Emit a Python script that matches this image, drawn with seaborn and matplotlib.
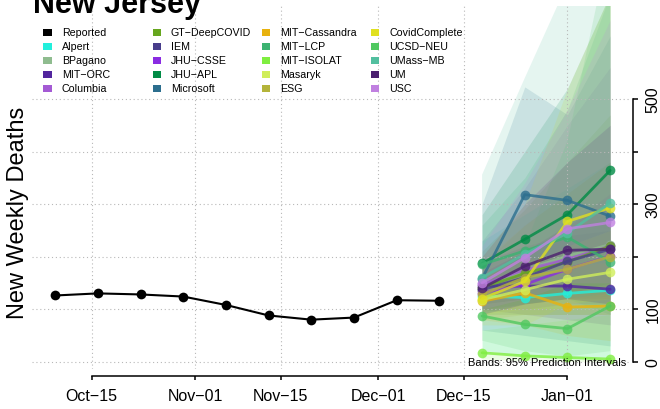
import matplotlib
matplotlib.use("Agg")
import matplotlib.pyplot as plt
import matplotlib.dates as mdates
from matplotlib.patches import Rectangle
import numpy as np
import pandas as pd
import seaborn as sns

# reported weekly deaths (dates are the Friday of each week)
reported_dates = pd.date_range("2020-10-09", periods=10, freq="7D")
reported_deaths = [126, 130, 128, 124, 108, 88, 80, 84, 117, 116]

forecast_dates = pd.to_datetime(["2020-12-18", "2020-12-25", "2021-01-01", "2021-01-08"])

models = ["Alpert", "BPagano", "MIT-ORC", "Columbia", "GT-DeepCOVID", "IEM",
          "JHU-CSSE", "JHU-APL", "Microsoft", "MIT-Cassandra", "MIT-LCP",
          "MIT-ISOLAT", "Masaryk", "ESG", "CovidComplete", "UCSD-NEU",
          "UMass-MB", "UM", "USC"]

model_colors = {
    "Alpert": "#22efdc", "BPagano": "#8fbc8f", "MIT-ORC": "#52259e",
    "Columbia": "#a45ad4", "GT-DeepCOVID": "#66a61e", "IEM": "#483d8b",
    "JHU-CSSE": "#8a2be2", "JHU-APL": "#008b45", "Microsoft": "#2c6e8e",
    "MIT-Cassandra": "#e8b20e", "MIT-LCP": "#3cb371", "MIT-ISOLAT": "#7fee40",
    "Masaryk": "#d0ee5a", "ESG": "#b4b43a", "CovidComplete": "#e0e020",
    "UCSD-NEU": "#50c860", "UMass-MB": "#52bf9f", "UM": "#4b1f6f",
    "USC": "#c080e0",
}

# point forecasts
forecast_point = {
    "Alpert": [125, 122, 130, 136],
    "BPagano": [137, 175, 201, 223],
    "MIT-ORC": [144, 144, 144, 138],
    "Columbia": [147, 175, 195, 220],
    "GT-DeepCOVID": [141, 168, 190, 220],
    "IEM": [137, 160, 191, 214],
    "JHU-CSSE": [131, 147, 176, 201],
    "JHU-APL": [187, 233, 280, 364],
    "Microsoft": [158, 318, 307, 277],
    "MIT-Cassandra": [115, 131, 104, 106],
    "MIT-LCP": [185, 211, 237, 190],
    "MIT-ISOLAT": [17, 11, 8, 5],
    "Masaryk": [118, 137, 157, 170],
    "ESG": [128, 160, 176, 200],
    "CovidComplete": [120, 153, 267, 293],
    "UCSD-NEU": [87, 71, 63, 106],
    "UMass-MB": [160, 205, 245, 302],
    "UM": [140, 182, 212, 214],
    "USC": [150, 198, 253, 265],
}

# 95% prediction intervals
forecast_lower = {
    "Alpert": [22, 10, 5, 5],
    "BPagano": [95, 110, 120, 125],
    "MIT-ORC": [100, 90, 80, 70],
    "Columbia": [100, 110, 120, 120],
    "GT-DeepCOVID": [90, 90, 90, 90],
    "IEM": [110, 120, 130, 140],
    "JHU-CSSE": [100, 100, 110, 110],
    "JHU-APL": [110, 120, 130, 150],
    "Microsoft": [60, 50, 40, 30],
    "MIT-Cassandra": [80, 70, 50, 40],
    "MIT-LCP": [100, 110, 120, 90],
    "MIT-ISOLAT": [5, 2, 1, 0],
    "Masaryk": [90, 100, 100, 100],
    "ESG": [80, 90, 90, 90],
    "CovidComplete": [70, 70, 110, 120],
    "UCSD-NEU": [40, 20, 10, 20],
    "UMass-MB": [90, 110, 120, 130],
    "UM": [90, 110, 120, 110],
    "USC": [100, 120, 150, 150],
}
forecast_upper = {
    "Alpert": [230, 280, 330, 380],
    "BPagano": [185, 260, 320, 380],
    "MIT-ORC": [190, 220, 240, 250],
    "Columbia": [230, 330, 450, 560],
    "GT-DeepCOVID": [210, 290, 380, 470],
    "IEM": [170, 210, 260, 300],
    "JHU-CSSE": [170, 210, 260, 320],
    "JHU-APL": [280, 400, 520, 700],
    "Microsoft": [300, 523, 470, 620],
    "MIT-Cassandra": [160, 200, 180, 190],
    "MIT-LCP": [260, 350, 480, 700],
    "MIT-ISOLAT": [60, 70, 80, 90],
    "Masaryk": [150, 180, 220, 250],
    "ESG": [190, 260, 320, 380],
    "CovidComplete": [200, 300, 520, 700],
    "UCSD-NEU": [150, 220, 420, 800],
    "UMass-MB": [356, 540, 720, 900],
    "UM": [200, 300, 380, 450],
    "USC": [220, 340, 480, 650],
}

tick_dates = pd.to_datetime(["2020-10-15", "2020-11-01", "2020-11-15",
                             "2020-12-01", "2020-12-15", "2021-01-01"])
y_ticks = [0, 100, 200, 300, 400, 500]
y_ticklabels = ["0", "100", "", "300", "", "500"]

sns.set_style("white")
plt.rcParams["font.family"] = ["Liberation Sans", "DejaVu Sans"]
plt.rcParams["text.color"] = "black"
plt.rcParams["xtick.color"] = "black"
plt.rcParams["ytick.color"] = "black"

W, H = 660, 410
fig = plt.figure(figsize=(W / 100, H / 100), dpi=100)
ax = fig.add_axes([32 / W, 40 / H, 598 / W, 363 / H])

# bands (under the dotted grid)
for m in models:
    ax.fill_between(forecast_dates, forecast_lower[m], forecast_upper[m],
                    color=model_colors[m], alpha=0.15, lw=0, zorder=0.3)

# forecast lines
rows = []
for m in models:
    for d, v in zip(forecast_dates, forecast_point[m]):
        rows.append({"model": m, "date": d, "deaths": v})
fc = pd.DataFrame(rows)
sns.lineplot(data=fc, x="date", y="deaths", hue="model", hue_order=models,
             palette=model_colors, marker="o", markersize=7, markeredgewidth=0,
             linewidth=2, alpha=0.8, legend=False, ax=ax)

# reported
rep = pd.DataFrame({"date": reported_dates, "deaths": reported_deaths})
sns.lineplot(data=rep, x="date", y="deaths", color="black", marker="o",
             markersize=7, markeredgewidth=0, linewidth=1.5, ax=ax)

ax.set_xlim(pd.Timestamp("2020-10-15") - pd.Timedelta(days=9.79),
            pd.Timestamp("2021-01-01") + pd.Timedelta(days=10.25))
ax.set_ylim(-13.9, 677)

ax.set_xticks(tick_dates)
ax.xaxis.set_major_formatter(mdates.DateFormatter("%b\u2212%d"))
ax.set_yticks(y_ticks)
ax.set_yticklabels(y_ticklabels)
ax.yaxis.tick_right()

ax.grid(True, linestyle=(0, (1, 2.5)), color="#b8b8b8", linewidth=0.8)
ax.set_axisbelow(True)

for s in ["top", "left"]:
    ax.spines[s].set_visible(False)
ax.spines["bottom"].set_position(("outward", 5.0))
ax.spines["bottom"].set_bounds(mdates.date2num(tick_dates[0]), mdates.date2num(tick_dates[-1]))
ax.spines["right"].set_position(("outward", 2.4))
ax.spines["right"].set_bounds(0, 500)
for s in ["bottom", "right"]:
    ax.spines[s].set_linewidth(1.1)
    ax.spines[s].set_color("black")

ax.tick_params(axis="x", direction="out", length=2.6, width=1.1, pad=6, labelsize=11.5,
               bottom=True, colors="black")
ax.tick_params(axis="y", direction="out", length=3.6, width=1.1, pad=5, labelsize=11.5,
               labelrotation=90, right=True, left=False, colors="black")
for lab in ax.get_yticklabels():
    lab.set_va("center")

ax.set_xlabel("")
ax.set_ylabel("")

ax.text(0.993, 0, "Bands: 95% Prediction Intervals", transform=ax.get_yaxis_transform(),
        ha="right", va="center", fontsize=8)

fig.text(18 / W, 197 / H, "New Weekly Deaths", rotation=90, ha="center", va="center", fontsize=17)
# title sits partly above the top edge, as in the original
fig.text(33 / W, 1 - 13 / H, "New Jersey", fontsize=22, fontweight="bold", ha="left", va="baseline")

# legend (4 columns x 5 rows, filled squares)
legend_names = ["Reported"] + models
legend_colors = ["black"] + [model_colors[m] for m in models]
for i, (name, c) in enumerate(zip(legend_names, legend_colors)):
    col, row = i // 5, i % 5
    x = 43.3 + col * 109.2
    y = 33 + row * 14
    fig.add_artist(Rectangle((x / W, 1 - (y + 3.5) / H), 8.3 / W, 7 / H,
                             transform=fig.transFigure, color=c, lw=0))
    fig.text((x + 18.4) / W, 1 - y / H, name.replace("-", "\u2212"),
             fontsize=7.7, ha="left", va="center")

fig.savefig("out.png", dpi=100)
